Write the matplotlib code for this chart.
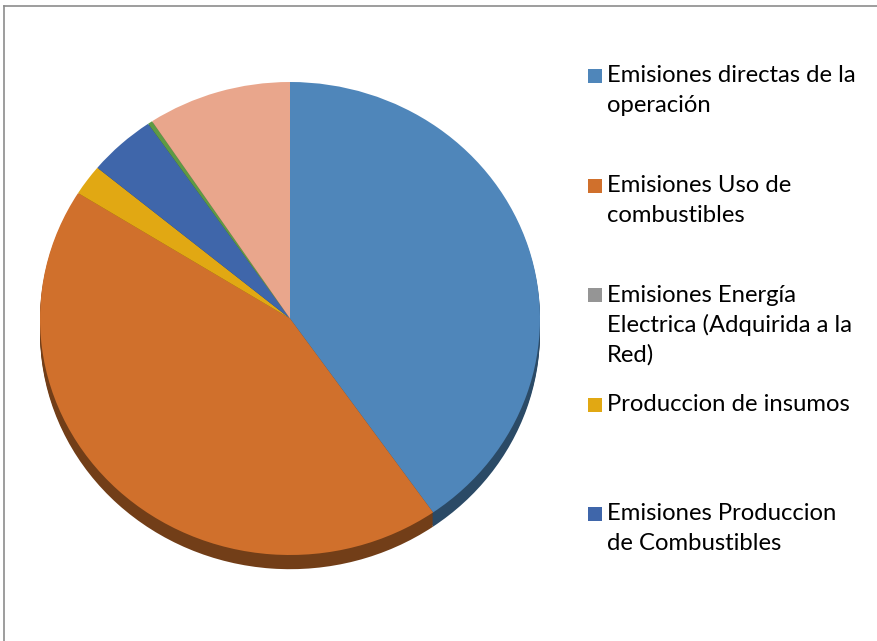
import numpy as np
import matplotlib
matplotlib.use("Agg")
import matplotlib.pyplot as plt
from matplotlib.lines import Line2D
from matplotlib.patches import Rectangle
import matplotlib.colors as mcolors

# slice shares (%), clockwise from 12 o'clock
shares = [40.3, 43.6, 0.0, 2.1, 4.4, 0.3, 9.3]
colors = ["#4f86ba", "#d0702c", "#959595", "#e1a813", "#3f66aa", "#5e9a44", "#e9a68c"]

# only the first five entries are visible in the legend
legend_labels = [
    "Emisiones directas de la\noperación",
    "Emisiones Uso de\ncombustibles",
    "Emisiones Energía\nElectrica (Adquirida a la\nRed)",
    "Produccion de insumos",
    "Emisiones Produccion\nde Combustibles",
]

W, H = 877, 641
fig = plt.figure(figsize=(W / 100, H / 100), dpi=100)
fig.patch.set_facecolor("white")

# pie center / radii in pixels (elliptical, tilted 3D look)
cx, cy, rx, ry = 290, 318.5, 250, 236.5
xl, yl_lo, yl_hi = 1.05, -1.12, 1.05
ax = fig.add_axes([(cx - xl * rx) / W, (H - cy + yl_lo * ry) / H,
                   2 * xl * rx / W, (yl_hi - yl_lo) * ry / H])

depth = 0.06
dark = [tuple(np.array(mcolors.to_rgb(c)) * 0.55) for c in colors]
for k in range(8, 0, -1):
    ax.pie(shares, colors=dark, startangle=90, counterclock=False,
           center=(0, -depth * k / 8), radius=1,
           wedgeprops=dict(linewidth=0))
ax.pie(shares, colors=colors, startangle=90, counterclock=False,
       radius=1, wedgeprops=dict(linewidth=0))
ax.set_aspect("auto")
ax.set_xlim(-xl, xl)
ax.set_ylim(yl_lo, yl_hi)
ax.axis("off")

# legend, drawn by hand to keep the even entry spacing
font = "Lato"
y_first = 76
step = 109.5
line_h = 30
sq = 14
for i, (lab, col) in enumerate(zip(legend_labels, colors[:5])):
    y0 = y_first + i * step
    fig.add_artist(Rectangle((588 / W, 1 - (y0 + sq / 2) / H), sq / W, sq / H,
                             transform=fig.transFigure, color=col, lw=0))
    for j, line in enumerate(lab.split("\n")):
        fig.text(607 / W, 1 - (y0 + j * line_h) / H, line, fontsize=17.2,
                 family=font, va="center", ha="left", color="black")

# chart-area border (top and left visible)
fig.add_artist(Line2D([4 / W, 1], [1 - 6 / H, 1 - 6 / H], color="#8c8c8c", lw=1.2,
                      transform=fig.transFigure))
fig.add_artist(Line2D([4 / W, 4 / W], [0, 1 - 6 / H], color="#8c8c8c", lw=1.2,
                      transform=fig.transFigure))

fig.savefig("out.png", dpi=100, facecolor="white")
